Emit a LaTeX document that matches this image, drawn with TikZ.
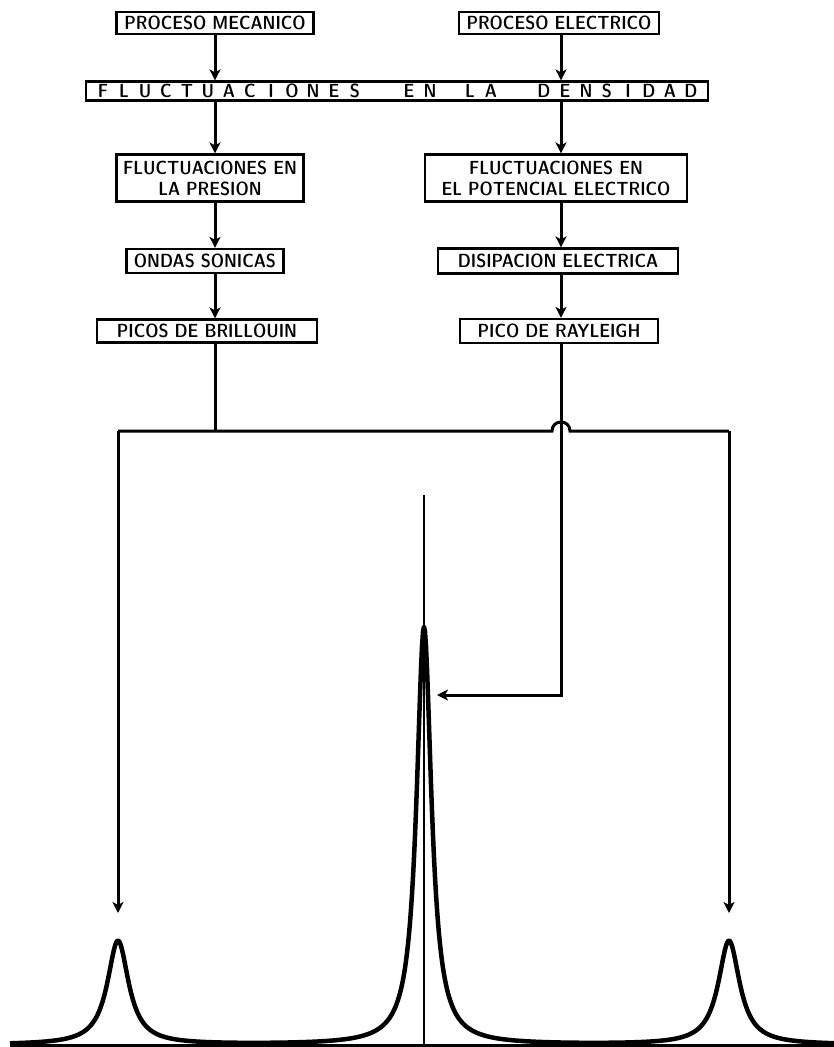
\documentclass[tikz,border=0pt]{standalone}
\usetikzlibrary{arrows.meta}
\newlength{\LineWidth}
\newlength{\RowHeight}
\setlength{\LineWidth}{3pt}
\setlength{\RowHeight}{22pt}
\newcommand{\boxfont}{\fontseries{sbc}\sffamily\fontsize{19}{21}\selectfont}
\newcommand{\spreadword}[1]{\foreach \c in {#1}{\makebox[21pt]{\c}}}
\tikzset{
  label box/.style={draw, line width=2.2pt, inner sep=0pt, font=\boxfont, align=center, minimum height=\RowHeight},
  flow/.style={line width=\LineWidth, -{Stealth[length=11pt, width=11pt, inset=3pt]}},
  bus/.style={line width=\LineWidth},
  spectrum/.style={line width=4.5pt, line join=round},
}

\begin{document}
\begin{tikzpicture}[x=1pt, y=-1pt]
  \useasboundingbox (0,0) rectangle (834,1047);

  \coordinate (colL) at (215,0);
  \coordinate (colR) at (561,0);

  \node[label box, minimum width=197pt] (mech) at (215,23) {PROCESO MECANICO};
  \node[label box, minimum width=200pt] (elec) at (559,23) {PROCESO ELECTRICO};
  \node[label box, minimum width=622pt, minimum height=19pt] (dens) at (397,91)
    {\spreadword{F,L,U,C,T,U,A,C,I,O,N,E,S}\hspace{33pt}\spreadword{E,N}\hspace{19pt}\spreadword{L,A}\hspace{32pt}\spreadword{D,E,N,S,I,D,A,D}};
  \node[label box, minimum width=187pt, minimum height=47pt] (pres) at (210,178) {FLUCTUACIONES EN\\LA PRESION};
  \node[label box, minimum width=262pt, minimum height=47pt] (pot) at (556,178) {FLUCTUACIONES EN\\EL POTENCIAL ELECTRICO};
  \node[label box, minimum width=157pt, minimum height=24pt] (sound) at (205,261) {ONDAS SONICAS};
  \node[label box, minimum width=240pt, minimum height=25pt] (disip) at (558,261) {DISIPACION ELECTRICA};
  \node[label box, minimum width=220pt, minimum height=23pt] (brill) at (207,331) {PICOS DE BRILLOUIN};
  \node[label box, minimum width=198pt, minimum height=24pt] (rayl) at (559,331) {PICO DE RAYLEIGH};

  \draw[flow] (mech.south -| colL) -- (dens.north -| colL);
  \draw[flow] (elec.south -| colR) -- (dens.north -| colR);
  \draw[flow] (dens.south -| colL) -- (pres.north -| colL);
  \draw[flow] (dens.south -| colR) -- (pot.north -| colR);
  \draw[flow] (pres.south -| colL) -- (sound.north -| colL);
  \draw[flow] (pot.south -| colR) -- (disip.north -| colR);
  \draw[flow] (sound.south -| colL) -- (brill.north -| colL);
  \draw[flow] (disip.south -| colR) -- (rayl.north -| colR);

  \coordinate (busL) at (118,431);
  \coordinate (busR) at (729,431);
  \coordinate (hopL) at (552,431);
  \coordinate (hopR) at (570,431);
  \coordinate (peakL) at (118,913);
  \coordinate (peakR) at (729,913);
  \coordinate (peakC) at (437,695);
  \coordinate (centreTop) at (424,495);
  \coordinate (centreBase) at (424,1045);
  \coordinate (baseL) at (10,1045);
  \coordinate (baseR) at (834,1045);

  \draw[bus] (brill.south -| colL) -- (colL |- busL);
  \draw[bus] (busL) -- (hopL) .. controls +(0,-12) and +(0,-12) .. (hopR) -- (busR);
  \draw[flow] (busL) -- (peakL);
  \draw[flow] (busR) -- (peakR);
  \draw[flow] (rayl.south -| colR) -- (colR |- peakC) -- (peakC);

  \draw[line width=2.4pt] (centreTop) -- (centreBase);
  \draw[line width=3pt] (baseL) -- (baseR);
  \draw[spectrum] plot[domain=10:834, samples=825]
    (\x, {1045 - 104/(1+((\x-118)/13)^2) - 418/(1+((\x-424)/9)^2) - 104/(1+((\x-729)/13)^2)});
\end{tikzpicture}
\end{document}
